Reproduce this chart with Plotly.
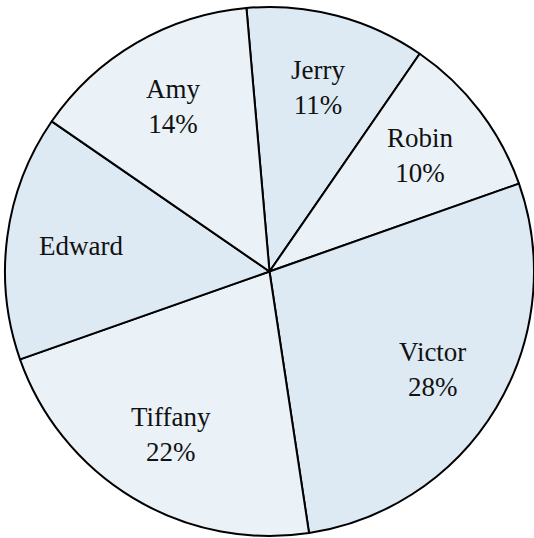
import math
import plotly.graph_objects as go

labels = ["Jerry", "Robin", "Victor", "Tiffany", "Edward", "Amy"]
values = [11, 10, 28, 22, 15, 14]
texts = ["Jerry<br>11%", "Robin<br>10%", "Victor<br>28%", "Tiffany<br>22%", "Edward", "Amy<br>14%"]
colors = ["#dde9f3", "#eaf2f7", "#dde9f3", "#eaf2f7", "#dde9f3", "#eaf2f7"]

W, H = 534, 538
ROT = -5
CX, CY, R = 269.5, 271.5, 264.5   # pixel centre / radius of pie
LABEL_R = 0.72

dom_x = [(CX - R) / W, (CX + R) / W]
dom_y = [(H - CY - R) / H, (H - CY + R) / H]

fig = go.Figure(go.Pie(
    labels=labels, values=values,
    textinfo="none", sort=False, direction="clockwise", rotation=ROT,
    marker=dict(colors=colors, line=dict(color="black", width=2)),
    hoverinfo="label+percent",
    domain=dict(x=dom_x, y=dom_y),
))

total = sum(values)
cum = 0
annotations = []
for lab, v, t in zip(labels, values, texts):
    mid = ROT + (cum + v / 2) / total * 360
    cum += v
    a = math.radians(mid)
    px = CX + LABEL_R * R * math.sin(a)
    py = CY - LABEL_R * R * math.cos(a)
    annotations.append(dict(
        x=px / W, y=1 - py / H, xref="paper", yref="paper",
        text=t, showarrow=False, xanchor="center", yanchor="middle",
        font=dict(family="Liberation Serif", size=27, color="#111"),
    ))

fig.update_layout(
    width=W, height=H, margin=dict(l=0, r=0, t=0, b=0),
    showlegend=False, paper_bgcolor="white",
    annotations=annotations,
)
fig.write_html("out.html", config={"displayModeBar": False},
               post_script="document.body.style.margin='0px';document.body.style.overflow='hidden';")
